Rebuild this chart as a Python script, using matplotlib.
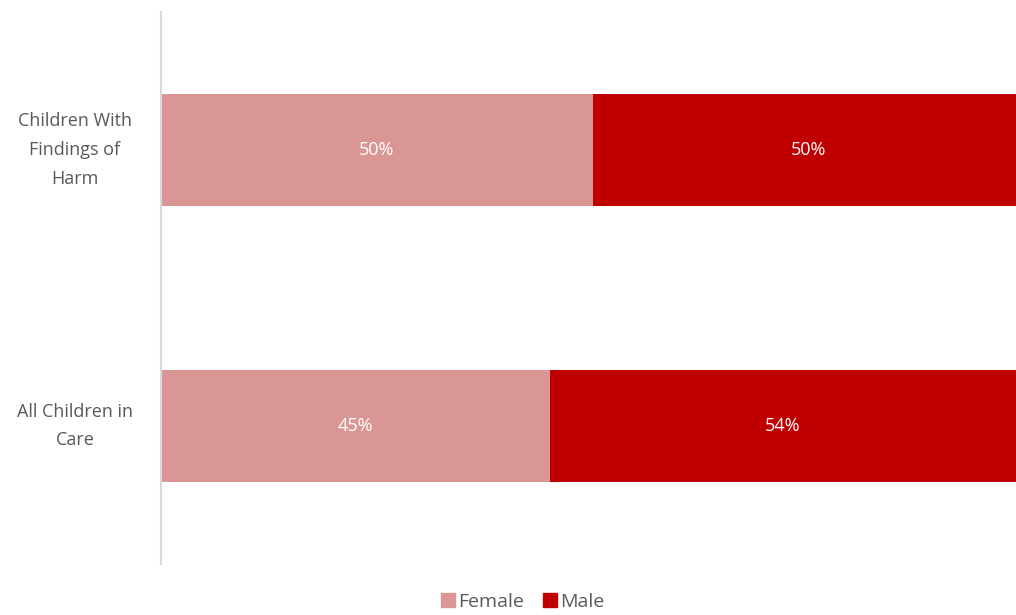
import matplotlib.pyplot as plt
from matplotlib.lines import Line2D

plt.rcParams['font.family'] = ['Open Sans', 'DejaVu Sans']

categories = ['Children With\nFindings of\nHarm', 'All Children in\nCare']
female = [50, 45]
male = [50, 54]

female_color = '#d99694'
male_color = '#c00000'
text_color = '#595959'

fig = plt.figure(figsize=(10.16, 6.15), dpi=100)
ax = fig.add_axes([161 / 1016, 1 - 564 / 615, 1 - 161 / 1016, 552 / 615])

y = range(len(categories))
ax.barh(y, female, height=0.405, color=female_color)
ax.barh(y, male, left=female, height=0.405, color=male_color)

for i in y:
    ax.text(female[i] / 2, i, f'{female[i]}%', ha='center', va='center',
            color='white', fontsize=13)
    ax.text(female[i] + male[i] / 2, i, f'{male[i]}%', ha='center', va='center',
            color='white', fontsize=13)

ax.set_xlim(0, 99)
ax.set_ylim(len(categories) - 0.5, -0.5)
ax.set_yticks(list(y))
ax.set_yticklabels(categories, fontsize=13, color=text_color,
                   ha='center', va='center', linespacing=1.75)
ax.tick_params(axis='y', length=0, pad=62)
ax.set_xticks([])

for side in ['top', 'right', 'bottom']:
    ax.spines[side].set_visible(False)
ax.spines['left'].set_color('#d9d9d9')
ax.spines['left'].set_linewidth(1.5)

handles = [Line2D([], [], marker='s', linestyle='none', markersize=10,
                  color=female_color, label='Female'),
           Line2D([], [], marker='s', linestyle='none', markersize=10,
                  color=male_color, label='Male')]
fig.legend(handles=handles, loc='center', bbox_to_anchor=(0.513, 1 - 602 / 615),
           ncol=2, frameon=False, fontsize=14, labelcolor=text_color,
           handletextpad=0.05, columnspacing=0.8, handlelength=1.0)

fig.savefig('out.png', dpi=100)
